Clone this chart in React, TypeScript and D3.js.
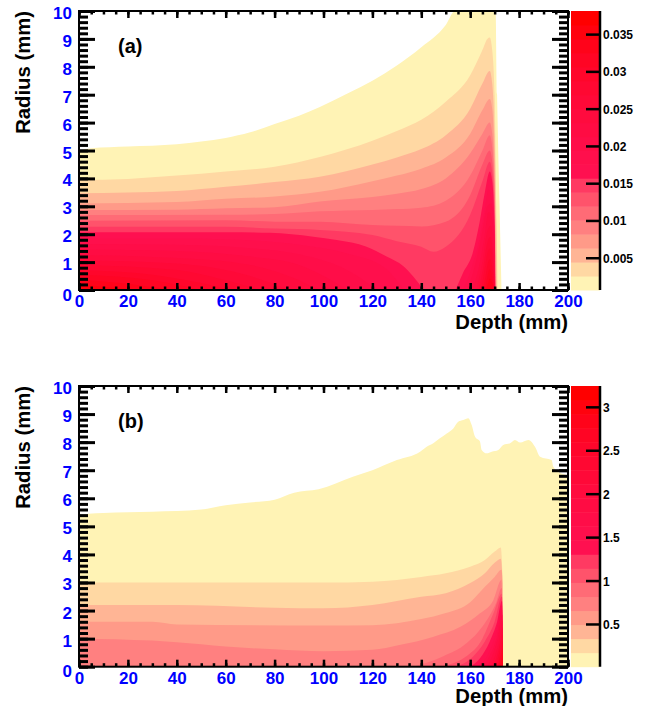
import React, { useEffect, useRef } from 'react';
import * as d3 from 'd3';

type Pt = [number, number];
type Contour = { level: number; pts: Pt[] };

// colours of the 20 palette steps, bottom of the bar to the top
const levelColors = [
  '#FFF3B5', '#FFD8A3', '#FFB595', '#FF9A88', '#FF8080', '#FF6B76', '#FF536B', '#FF3A62',
  '#FF1050', '#FF0F4C', '#FF0D48', '#FF0C43', '#FF0B3E', '#FF0938', '#FF0832', '#FF062B',
  '#FF0524', '#FF031A', '#FF020E', '#FF0000',
];

const depthTicks = [0, 20, 40, 60, 80, 100, 120, 140, 160, 180, 200];
const depthMinor = d3.range(0, 201, 5);
const radiusTicks = [0, 1, 2, 3, 4, 5, 6, 7, 8, 9, 10];
const radiusMinor = d3.range(0, 51).map((d) => d / 5);

const barTicksA = [0.005, 0.01, 0.015, 0.02, 0.025, 0.03, 0.035];
const barTicksB = [0.5, 1, 1.5, 2, 2.5, 3];
const barRangeA: Pt = [0.00067, 0.0381];
const barRangeB: Pt = [0.008, 3.24];

// contour outlines: [depth mm, radius mm]
const contoursA: Contour[] = [
  { level: 0, pts: [[0, 5.0], [5, 5.08], [20, 5.14], [40, 5.22], [50, 5.32], [60, 5.45], [70, 5.65], [80, 5.95], [90, 6.25], [98.5, 6.56], [110, 7.05], [120, 7.5], [130, 8.05], [140, 8.7], [150, 9.5], [153.8, 10], [170.4, 10], [171, 7], [172, 3], [172.8, 0]] },
  { level: 1, pts: [[0, 3.94], [20, 3.98], [40, 4.1], [60, 4.25], [80, 4.42], [98.5, 4.77], [120, 5.35], [130, 5.7], [140, 6.1], [150, 6.75], [160, 7.7], [165, 8.6], [167, 9], [168, 9.05], [169, 8.6], [170, 7], [170.7, 3], [171.2, 0]] },
  { level: 2, pts: [[0, 3.47], [40, 3.55], [60, 3.7], [80, 3.87], [98.5, 4.06], [120, 4.5], [130, 4.75], [140, 5.05], [150, 5.55], [160, 6.5], [165, 7.4], [168, 7.85], [169, 7.4], [170, 5.5], [170.6, 2.5], [170.9, 0]] },
  { level: 3, pts: [[0, 3.1], [40, 3.15], [60, 3.27], [80, 3.35], [98.5, 3.52], [120, 3.9], [130, 4.1], [140, 4.35], [150, 4.75], [160, 5.6], [165, 6.45], [168, 6.85], [169, 6.5], [170, 4.5], [170.5, 0]] },
  { level: 4, pts: [[0, 2.87], [40, 2.88], [60, 2.93], [80, 2.97], [98.5, 3.17], [120, 3.33], [130, 3.45], [140, 3.62], [150, 4], [160, 4.9], [165, 5.6], [168, 6.0], [169, 5.6], [170, 3.8], [170.4, 0]] },
  { level: 5, pts: [[0, 2.69], [60, 2.7], [80, 2.72], [98.5, 2.82], [120, 2.87], [130, 2.9], [140, 2.95], [150, 3.2], [160, 4.1], [165, 5.0], [168, 5.55], [169, 5.1], [170, 3.5], [170.3, 0]] },
  { level: 6, pts: [[0, 2.48], [60, 2.5], [80, 2.45], [98.5, 2.45], [120, 2.33], [130, 2.3], [140, 2.28], [150, 2.45], [160, 3.4], [165, 4.5], [168, 5.0], [169, 4.6], [170, 3], [170.2, 0]] },
  { level: 7, pts: [[0, 2.27], [60, 2.27], [80, 2.2], [98.5, 2.15], [120, 1.97], [130, 1.75], [140, 1.55], [145, 1.37], [150, 1.55], [160, 2.7], [165, 3.9], [168, 4.6], [169, 4.2], [170, 2.5], [170.2, 0]] },
  { level: 8, pts: [[0, 2.07], [60, 2.07], [78, 2.05], [95.8, 1.91], [105.4, 1.79], [117.6, 1.55], [125.8, 1.2], [132.7, 0.85], [136.7, 0.48], [141, 0]] },
  { level: 8, pts: [[154, 0], [157, 0.6], [161, 1.32], [164, 2.5], [166, 3.5], [168, 4.25], [169, 3.9], [170, 2.3], [170.2, 0]] },
  { level: 9, pts: [[0, 1.85], [40, 1.85], [70, 1.78], [90, 1.62], [110, 1.3], [125, 0.8], [133, 0]] },
  { level: 9, pts: [[157, 0], [161, 0.9], [164, 1.9], [166, 2.9], [167.5, 3.6], [168.7, 3.3], [170, 2], [170.2, 0]] },
  { level: 10, pts: [[0, 1.65], [40, 1.62], [70, 1.5], [90, 1.28], [110, 0.7], [122, 0]] },
  { level: 10, pts: [[159, 0], [162, 0.9], [165, 2.1], [167, 3.0], [168.5, 3.1], [170, 1.8], [170.2, 0]] },
  { level: 11, pts: [[0, 1.45], [40, 1.4], [70, 1.2], [90, 0.9], [110, 0]] },
  { level: 11, pts: [[161, 0], [164, 1], [166, 2], [167.5, 2.8], [168.5, 2.7], [170, 1.5], [170.1, 0]] },
  { level: 12, pts: [[0, 1.25], [40, 1.15], [70, 0.9], [90, 0.35], [98, 0]] },
  { level: 12, pts: [[162.5, 0], [165, 1], [167, 2.1], [168.3, 2.3], [169.5, 1.5], [170, 0]] },
  { level: 13, pts: [[0, 1.07], [40, 0.95], [70, 0.5], [86, 0]] },
  { level: 13, pts: [[163.5, 0], [165.5, 0.9], [167, 1.7], [168.2, 1.9], [169.5, 1.1], [170, 0]] },
  { level: 14, pts: [[0, 0.9], [40, 0.72], [60, 0.35], [74, 0]] },
  { level: 14, pts: [[164.5, 0], [166, 0.8], [167.3, 1.4], [168.2, 1.5], [169.5, 0.8], [170, 0]] },
  { level: 15, pts: [[0, 0.72], [30, 0.55], [50, 0.25], [62, 0]] },
  { level: 15, pts: [[165.2, 0], [166.5, 0.6], [167.5, 1.05], [168.2, 1.1], [169.3, 0.6], [169.8, 0]] },
  { level: 16, pts: [[0, 0.55], [30, 0.35], [50, 0]] },
  { level: 16, pts: [[166, 0], [167, 0.45], [168, 0.75], [169, 0.45], [169.6, 0]] },
  { level: 17, pts: [[0, 0.38], [20, 0.22], [38, 0]] },
  { level: 17, pts: [[166.5, 0], [167.5, 0.3], [168, 0.4], [169, 0.25], [169.4, 0]] },
  { level: 18, pts: [[0, 0.2], [10, 0.12], [25, 0]] },
  { level: 19, pts: [[0, 0.05], [8, 0]] },
];

const contoursB: Contour[] = [
  { level: 0, pts: [[0, 5.4], [4, 5.45], [10, 5.48], [30, 5.52], [50, 5.6], [60, 5.75], [70, 5.85], [80, 5.95], [88, 6.2], [98, 6.32], [112, 6.77], [120, 7.0], [130, 7.36], [139.5, 7.66], [142.2, 7.84], [144.9, 7.96], [147.6, 8.14], [150.4, 8.31], [153.1, 8.49], [155.1, 8.73], [157.2, 8.79], [159.2, 8.85], [160.6, 8.61], [162, 8.19], [164, 8.02], [164.7, 7.72], [166.7, 7.6], [168.8, 7.66], [171.5, 7.72], [173.5, 7.9], [176.3, 7.96], [178.3, 8.08], [180.4, 7.99], [183.8, 8.08], [186.5, 7.84], [188.6, 7.48], [193.3, 7.36], [194, 7.12], [196.7, 6.9], [200, 6.83]] },
  { level: 1, pts: [[0, 3.0], [100, 3.0], [120, 3.03], [140, 3.2], [150, 3.33], [160, 3.56], [166, 3.8], [170, 4.1], [172.5, 4.25], [173.1, 3.5], [173.4, 0]] },
  { level: 2, pts: [[0, 2.2], [40, 2.2], [80, 2.1], [100, 2.08], [120, 2.2], [140, 2.49], [150, 2.62], [160, 2.98], [166, 3.33], [170, 3.7], [172.5, 3.85], [173.1, 3.3], [173.4, 0]] },
  { level: 3, pts: [[0, 1.6], [30, 1.6], [40, 1.5], [100, 1.47], [120, 1.48], [140, 1.7], [150, 1.91], [160, 2.3], [166, 2.85], [170, 3.2], [172.8, 3.45], [173.2, 3], [173.4, 0]] },
  { level: 4, pts: [[0, 1.0], [30, 0.93], [50, 0.8], [60, 0.72], [80, 0.62], [100, 0.55], [120, 0.6], [131, 0.77], [145, 1.07], [156, 1.42], [164, 1.9], [169.5, 2.38], [172.8, 3.1], [173.4, 0]] },
  { level: 5, pts: [[136.7, 0], [149, 0.37], [158.6, 0.84], [165, 1.43], [170.7, 2.3], [172.9, 2.8], [173.4, 0]] },
  { level: 6, pts: [[147, 0], [158, 0.35], [165, 1.0], [169.5, 1.9], [172.9, 2.6], [173.4, 0]] },
  { level: 7, pts: [[154, 0], [161, 0.35], [166, 0.9], [170, 1.6], [173, 2.5], [173.4, 0]] },
  { level: 8, pts: [[160, 0], [164, 0.3], [168, 0.9], [171, 1.6], [173, 2.35], [173.4, 0]] },
  { level: 9, pts: [[163, 0], [167, 0.4], [170.5, 1.2], [173, 2.2], [173.4, 0]] },
  { level: 10, pts: [[165, 0], [168, 0.4], [171, 1.1], [173, 2.05], [173.4, 0]] },
  { level: 11, pts: [[167, 0], [169.5, 0.5], [171.5, 1.1], [173.1, 1.85], [173.4, 0]] },
  { level: 12, pts: [[168.5, 0], [170.5, 0.5], [172, 1.0], [173.1, 1.65], [173.4, 0]] },
  { level: 13, pts: [[169.5, 0], [171, 0.4], [172.3, 0.9], [173.2, 1.4], [173.4, 0]] },
  { level: 14, pts: [[170.3, 0], [171.6, 0.4], [172.6, 0.8], [173.2, 1.15], [173.4, 0]] },
  { level: 15, pts: [[171, 0], [172, 0.3], [172.8, 0.6], [173.3, 0.9], [173.4, 0]] },
  { level: 16, pts: [[171.5, 0], [172.4, 0.3], [173.3, 0.65], [173.4, 0]] },
  { level: 17, pts: [[172, 0], [172.7, 0.2], [173.3, 0.4], [173.4, 0]] },
];

const left = 79;
const right = 568;
const barLeft = 571;
const barRight = 600;
const sans = '"Liberation Sans", Arial, sans-serif';

type PanelProps = {
  contours: Contour[];
  top: number;
  bottom: number;
  label: string;
  labelY: number;
  barRange: Pt;
  barTicks: number[];
  depthY: number;
};

function Panel({ contours, top, bottom, label, labelY, barRange, barTicks, depthY }: PanelProps) {
  const axesRef = useRef<SVGGElement>(null);
  const x = d3.scaleLinear().domain([0, 200]).range([left, right]);
  const y = d3.scaleLinear().domain([0, 10]).range([bottom, top]);
  const bar = d3.scaleLinear().domain(barRange).range([bottom, top]);
  const area = d3.area<Pt>().x((d) => x(d[0])).y0(y(0)).y1((d) => y(d[1])).curve(d3.curveMonotoneX);
  const clipId = `clip-${label[1]}`;
  const step = (barRange[1] - barRange[0]) / levelColors.length;

  useEffect(() => {
    const g = d3.select(axesRef.current);
    g.selectAll('*').remove();

    const add = (axis: any, tx: number, ty: number, width: number) => {
      const sel = g.append('g').attr('transform', `translate(${tx},${ty})`).call(axis);
      sel.select('.domain').remove();
      sel.selectAll('.tick line').attr('stroke', '#000').attr('stroke-width', width);
      return sel;
    };

    // minor ticks
    add(d3.axisLeft(y).tickValues(radiusMinor).tickSize(-9).tickFormat(() => ''), left, 0, 3);
    add(d3.axisRight(y).tickValues(radiusMinor).tickSize(-9).tickFormat(() => ''), right, 0, 3);
    add(d3.axisBottom(x).tickValues(depthMinor).tickSize(-3.5).tickFormat(() => ''), 0, bottom, 2.5);
    add(d3.axisTop(x).tickValues(depthMinor).tickSize(-3.5).tickFormat(() => ''), 0, top, 2.5);

    // major ticks
    const yAxis = add(d3.axisLeft(y).tickValues(radiusTicks).tickSize(-16).tickPadding(7).tickFormat((d) => String(d)), left, 0, 3);
    add(d3.axisRight(y).tickValues(radiusTicks).tickSize(-16).tickFormat(() => ''), right, 0, 3);
    const xAxis = add(d3.axisBottom(x).tickValues(depthTicks).tickSize(-7).tickPadding(5).tickFormat((d) => String(d)), 0, bottom, 2.5);
    add(d3.axisTop(x).tickValues(depthTicks).tickSize(-7).tickFormat(() => ''), 0, top, 2.5);

    [yAxis, xAxis].forEach((sel) => {
      sel.selectAll('text')
        .attr('fill', '#0000FF')
        .style('font-family', sans)
        .style('font-weight', '700')
        .style('font-size', '17px');
    });
    yAxis.selectAll('text').attr('dy', (d: any) => (d === 0 ? 10 : 7.5));
    xAxis.selectAll('text').attr('y', 17).attr('dy', 0);

    // colour bar axis
    const barAxis = add(d3.axisRight(bar).tickValues(barTicks).tickSize(-14).tickPadding(3).tickFormat((d) => String(d)), barRight, 0, 2.5);
    barAxis.selectAll('text')
      .attr('fill', '#000')
      .attr('dy', 4.5)
      .style('font-family', sans)
      .style('font-weight', '700')
      .style('font-size', '12px');
  }, []);

  return (
    <g>
      <clipPath id={clipId}>
        <rect x={left} y={top} width={right - left} height={bottom - top} />
      </clipPath>
      <g clipPath={`url(#${clipId})`}>
        {contours.map((c, i) => (
          <path key={i} d={area(c.pts) ?? ''} fill={levelColors[c.level]} />
        ))}
      </g>
      {levelColors.map((c, i) => (
        <rect
          key={i}
          x={barLeft}
          width={barRight - barLeft}
          y={bar(barRange[0] + (i + 1) * step)}
          height={bar(barRange[0] + i * step) - bar(barRange[0] + (i + 1) * step) + 0.5}
          fill={c}
        />
      ))}
      <rect x={left} y={top} width={right - left} height={bottom - top} fill="none" stroke="#000" strokeWidth={2} />
      <line x1={barRight} x2={barRight} y1={top} y2={bottom} stroke="#000" strokeWidth={2.5} />
      <g ref={axesRef} />
      <text x={118} y={labelY} fontFamily={sans} fontWeight={700} fontSize={20}>{label}</text>
      <text x={right} y={depthY} textAnchor="end" fontFamily={sans} fontWeight={700} fontSize={20.3}>Depth (mm)</text>
      <text
        transform={`translate(30,${top}) rotate(-90)`}
        textAnchor="end"
        fontFamily={sans}
        fontWeight={700}
        fontSize={20.3}
      >
        Radius (mm)
      </text>
    </g>
  );
}

export default function App() {
  return (
    <svg width={647} height={706} style={{ position: 'absolute', left: 0, top: 0, background: '#fff' }}>
      <Panel contours={contoursA} top={11} bottom={290} label="(a)" labelY={53} barRange={barRangeA} barTicks={barTicksA} depthY={329} />
      <Panel contours={contoursB} top={386} bottom={666.7} label="(b)" labelY={428} barRange={barRangeB} barTicks={barTicksB} depthY={703} />
    </svg>
  );
}
